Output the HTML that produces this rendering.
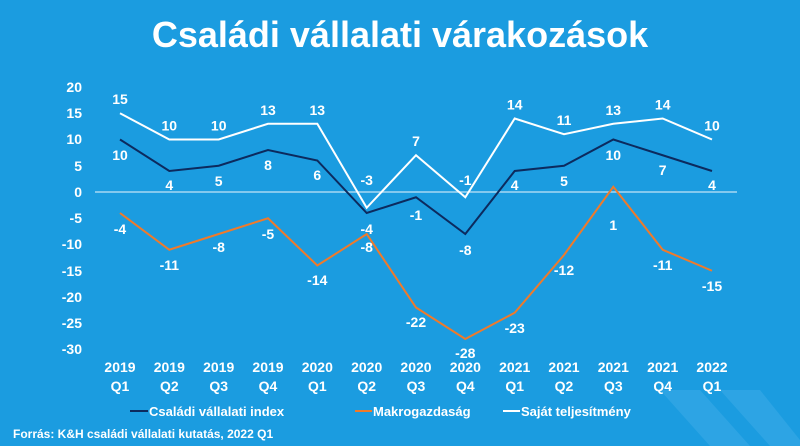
<!DOCTYPE html><html><head><meta charset="utf-8"><style>body{margin:0}svg{display:block}text{font-family:"Liberation Sans",sans-serif;font-weight:bold;fill:#fff}</style></head><body>
<svg width="800" height="446" viewBox="0 0 800 446">
<rect width="800" height="446" fill="#1b9ce0"/>
<path d="M660 390 L700 390 L750 446 L710 446 Z" fill="#3aaae6" opacity="0.6"/>
<path d="M720 390 L760 390 L800 440 L800 446 L770 446 Z" fill="#3aaae6" opacity="0.6"/>
<text x="400" y="47" font-size="36" text-anchor="middle">Családi vállalati várakozások</text>
<g font-size="14" text-anchor="end">
<text x="82" y="92">20</text><text x="82" y="118">15</text><text x="82" y="144">10</text><text x="82" y="171">5</text><text x="82" y="197">0</text><text x="82" y="223">-5</text><text x="82" y="249">-10</text><text x="82" y="276">-15</text><text x="82" y="302">-20</text><text x="82" y="328">-25</text><text x="82" y="354">-30</text>
</g>
<line x1="95" y1="192" x2="737" y2="192" stroke="#a8d8f2" stroke-width="1.5"/>
<polyline fill="none" stroke="#f07a2a" stroke-width="2" points="120,213 169.3,249.75 218.7,234 268,218.25 317.3,265.5 366.7,234 416,307.5 465.3,339 514.7,312.75 564,255 613.3,186.75 662.7,249.75 712,270.75"/>
<polyline fill="none" stroke="#0c2a5e" stroke-width="2" points="120,139.5 169.3,171 218.7,165.75 268,150 317.3,160.5 366.7,213 416,197.25 465.3,234 514.7,171 564,165.75 613.3,139.5 662.7,155.25 712,171"/>
<polyline fill="none" stroke="#fff" stroke-width="2" points="120,113.25 169.3,139.5 218.7,139.5 268,123.75 317.3,123.75 366.7,207.75 416,155.25 465.3,197.25 514.7,118.5 564,134.25 613.3,123.75 662.7,118.5 712,139.5"/>
<g font-size="14" text-anchor="middle">
<text x="120" y="104">15</text><text x="169.3" y="130.5">10</text><text x="218.7" y="130.5">10</text><text x="268" y="115">13</text><text x="317.3" y="115">13</text><text x="366.7" y="185">-3</text><text x="416" y="146">7</text><text x="465.3" y="185">-1</text><text x="514.7" y="109.5">14</text><text x="564" y="125">11</text><text x="613.3" y="115">13</text><text x="662.7" y="109.5">14</text><text x="712" y="130.5">10</text>
<text x="120" y="160">10</text><text x="169.3" y="190">4</text><text x="218.7" y="186">5</text><text x="268" y="170">8</text><text x="317.3" y="180">6</text><text x="366.7" y="234">-4</text><text x="416" y="220">-1</text><text x="465.3" y="255">-8</text><text x="514.7" y="190">4</text><text x="564" y="186">5</text><text x="613.3" y="160">10</text><text x="662.7" y="175">7</text><text x="712" y="190">4</text>
<text x="120" y="234">-4</text><text x="169.3" y="270">-11</text><text x="218.7" y="252">-8</text><text x="268" y="239">-5</text><text x="317.3" y="285">-14</text><text x="366.7" y="252">-8</text><text x="416" y="327">-22</text><text x="465.3" y="358">-28</text><text x="514.7" y="333">-23</text><text x="564" y="275">-12</text><text x="613.3" y="230">1</text><text x="662.7" y="270">-11</text><text x="712" y="291">-15</text>
</g>
<g font-size="14" text-anchor="middle">
<text x="120" y="372">2019</text><text x="169.3" y="372">2019</text><text x="218.7" y="372">2019</text><text x="268" y="372">2019</text><text x="317.3" y="372">2020</text><text x="366.7" y="372">2020</text><text x="416" y="372">2020</text><text x="465.3" y="372">2020</text><text x="514.7" y="372">2021</text><text x="564" y="372">2021</text><text x="613.3" y="372">2021</text><text x="662.7" y="372">2021</text><text x="712" y="372">2022</text>
<text x="120" y="391">Q1</text><text x="169.3" y="391">Q2</text><text x="218.7" y="391">Q3</text><text x="268" y="391">Q4</text><text x="317.3" y="391">Q1</text><text x="366.7" y="391">Q2</text><text x="416" y="391">Q3</text><text x="465.3" y="391">Q4</text><text x="514.7" y="391">Q1</text><text x="564" y="391">Q2</text><text x="613.3" y="391">Q3</text><text x="662.7" y="391">Q4</text><text x="712" y="391">Q1</text>
</g>
<line x1="130" y1="411" x2="148" y2="411" stroke="#0c2a5e" stroke-width="2"/><text x="149" y="416" font-size="13">Családi vállalati index</text>
<line x1="355" y1="411" x2="372" y2="411" stroke="#f07a2a" stroke-width="2"/><text x="373" y="416" font-size="13">Makrogazdaság</text>
<line x1="503" y1="411" x2="520" y2="411" stroke="#fff" stroke-width="2"/><text x="521" y="416" font-size="13">Saját teljesítmény</text>
<text x="13" y="438" font-size="12">Forrás: K&amp;H családi vállalati kutatás, 2022 Q1</text>
</svg></body></html>
